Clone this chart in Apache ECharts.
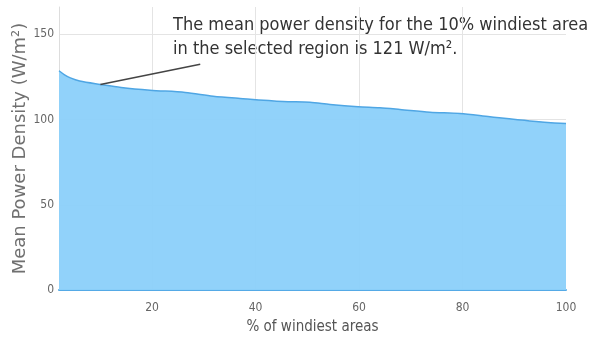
<!DOCTYPE html>
<html>
<head>
<meta charset="utf-8">
<script src="https://cdn.jsdelivr.net/npm/echarts@6/dist/echarts.min.js"></script>
<style>
  html, body { margin: 0; padding: 0; background: #fff; }
  #chart { width: 589px; height: 341px; }
</style>
</head>
<body>
<div id="chart"></div>
<script>
// % of windiest areas vs mean power density (W/m2)
const windiestPct = [2, 3, 4.2, 6, 10, 14, 19.6, 26.4, 31.8, 37, 45.3, 50.5, 54.4, 59.8, 64, 67.9, 73.7, 79.5, 85.3, 93, 100]
const powerDensity = [128.6, 126.4, 124.4, 122.6, 120.6, 118.8, 117.2, 115.9, 113.7, 112.4, 110.6, 110.1, 108.8, 107.5, 106.9, 105.9, 104.3, 103.5, 101.6, 99.2, 97.6]

// annotation: pointer from the 10% point out to the text
const notePoint = [10, 120.6]
const noteEnd = [29.3, 132.4]
const noteText = 'The mean power density for the 10% windiest area\nin the selected region is 121 W/m².'

const chart = echarts.init(document.getElementById('chart'))

const getOption = () => {
  let seriesData = windiestPct.map((x, i) => [x, powerDensity[i]])

  return {
    animation: false,
    grid: {
      left: 59,
      right: 23,
      top: 7,
      bottom: 51,
      outerBoundsMode: 'none'
    },
    xAxis: {
      type: 'value',
      min: 2,
      max: 100,
      name: '% of windiest areas',
      nameLocation: 'middle',
      nameGap: 30,
      nameMoveOverlap: false,
      nameTextStyle: { color: '#555', fontSize: 15, fontFamily: 'DejaVu Sans Condensed' },
      axisLine: { show: true, lineStyle: { color: '#55aae6', width: 2 } },
      axisTick: { show: false },
      axisLabel: {
        showMinLabel: false,
        color: '#666',
        fontSize: 12,
        fontFamily: 'DejaVu Sans Condensed',
        margin: 12
      },
      splitLine: { show: true, showMinLine: false, showMaxLine: false, lineStyle: { color: '#e4e4e4' } }
    },
    yAxis: {
      type: 'value',
      min: 0,
      max: 166,
      interval: 50,
      name: 'Mean Power Density (W/m²)',
      nameLocation: 'middle',
      nameGap: 30,
      nameMoveOverlap: false,
      nameTextStyle: { color: '#707070', fontSize: 18, fontFamily: 'DejaVu Sans' },
      axisLine: { show: true, lineStyle: { color: '#dddddd' } },
      axisTick: { show: false },
      axisLabel: {
        showMaxLabel: false,
        color: '#666',
        fontSize: 12,
        fontFamily: 'DejaVu Sans Condensed',
        margin: 5
      },
      splitLine: { show: true, showMaxLine: false, lineStyle: { color: '#e4e4e4' } }
    },
    series: [
      {
        type: 'line',
        data: seriesData,
        smooth: 0.3,
        showSymbol: false,
        lineStyle: { color: '#4fa6e4', width: 1.5 },
        areaStyle: { color: '#8dd0fa', opacity: 0.96, origin: 'start' },
        markLine: {
          silent: true,
          symbol: 'none',
          label: { show: false },
          lineStyle: { color: '#444', width: 1.5, type: 'solid' },
          data: [[{ coord: notePoint }, { coord: noteEnd }]]
        }
      }
    ],
    graphic: [
      {
        type: 'text',
        left: 173,
        top: 13,
        style: {
          text: noteText,
          fill: '#333',
          fontSize: 18,
          lineHeight: 24,
          fontFamily: 'DejaVu Sans Condensed'
        }
      }
    ]
  }
}

chart.setOption(getOption())
</script>
</body>
</html>
